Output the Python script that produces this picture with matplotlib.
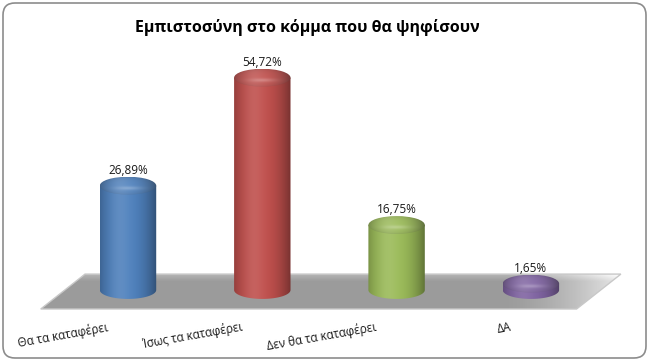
import numpy as np
import matplotlib
matplotlib.use("Agg")
import matplotlib.pyplot as plt
from matplotlib.path import Path
from matplotlib.patches import PathPatch, Ellipse, FancyBboxPatch, Polygon
from matplotlib.transforms import IdentityTransform
from matplotlib.colors import to_rgb

# Dados do gráfico
title = "Εμπιστοσύνη στο κόμμα που θα ψηφίσουν"
categories = ["Θα τα καταφέρει", "Ίσως τα καταφέρει", "Δεν θα τα καταφέρει", "ΔΑ"]
values = [26.89, 54.72, 16.75, 1.65]
labels = ["26,89%", "54,72%", "16,75%", "1,65%"]
colors = ["#4f81bd", "#c0504d", "#9bbb59", "#8064a2"]

FONT = ["Open Sans", "DejaVu Sans"]
HALF_W = 0.21    # meia largura do cilindro (unidades de x)
ELL_H = 4.6      # altura da elipse (unidades de y)
PX_X, PX_Y = 134.3, 3.88   # pixels por unidade
XLIM = (-0.7, 3.75)
YLIM = (-12, 60)

fig = plt.figure(figsize=(6.5, 3.61), dpi=100)
fig.patch.set_facecolor("white")

# moldura arredondada
frame = FancyBboxPatch((3, 3), 643, 355, boxstyle="round,pad=0,rounding_size=12",
                       transform=IdentityTransform(), facecolor="white",
                       edgecolor="#8c8c8c", lw=1.2, zorder=-10)
fig.patches.append(frame)

left = 128 + XLIM[0] * PX_X
bottom = 71 + YLIM[0] * PX_Y
ax = fig.add_axes([left / 650, bottom / 361,
                   (XLIM[1] - XLIM[0]) * PX_X / 650, (YLIM[1] - YLIM[0]) * PX_Y / 361])
ax.set_axis_off()


def shade_row(base, n=200):
    u = np.linspace(-1, 1, n)
    hl = np.exp(-((u + 0.3) / 0.35) ** 2)
    dk = np.where(u > 0, 0.38 * u ** 2, 0.22 * np.abs(u) ** 3)
    rgb = np.array(to_rgb(base))[None, :] * (1 - dk[:, None])
    rgb = rgb + (1 - rgb) * 0.10 * hl[:, None]
    return rgb


# chão
floor_pts = [(-0.65, -4.9), (3.34, -4.9), (3.67, 4.1), (-0.32, 4.1)]
floor = Polygon(floor_pts, closed=True, facecolor="none", edgecolor="#c8c8c8",
                lw=1, zorder=1)
ax.add_patch(floor)
gx = np.linspace(0, 1, 300)
gy = np.linspace(0, 1, 60)
GX, GY = np.meshgrid(gx, gy)
g = 0.61 + 0.10 * np.clip((GY - 0.8) / 0.2, 0, 1) \
    + 0.30 * np.clip((GX - 0.80) / 0.20, 0, 1) ** 1.5
floor_img = ax.imshow(np.dstack([g, g, g]), extent=(-0.65, 3.67, -4.9, 4.1),
                      origin="lower", aspect="auto", zorder=0.9)
floor_img.set_clip_path(floor)

# cilindros
for i, (v, c, lab) in enumerate(zip(values, colors, labels)):
    x0, x1 = i - HALF_W, i + HALF_W
    t = np.linspace(np.pi, 2 * np.pi, 60)
    arc = np.column_stack([i + HALF_W * np.cos(t), ELL_H / 2 * np.sin(t)])
    verts = np.vstack([[x0, v], arc, [x1, v], [x0, v]])
    codes = [Path.MOVETO] + [Path.LINETO] * (len(verts) - 2) + [Path.CLOSEPOLY]
    body = PathPatch(Path(verts, codes), facecolor="none", edgecolor="none",
                     transform=ax.transData)
    ax.add_patch(body)
    row = shade_row(c)
    im = ax.imshow(np.stack([row, row]), extent=(x0, x1, -ELL_H / 2, v),
                   aspect="auto", zorder=2, interpolation="bilinear")
    im.set_clip_path(body)

    # tampa
    top = Ellipse((i, v), 2 * HALF_W, ELL_H, facecolor="none", edgecolor="none")
    ax.add_patch(top)
    ty = np.linspace(0, 1, 60)[:, None]
    tx = np.linspace(-1, 1, 200)[None, :]
    lift = 0.06 + 0.22 * np.exp(-((ty - 0.62) / 0.10) ** 2) * np.exp(-(tx / 0.45) ** 2)
    edge = np.clip(1 - (tx ** 2 + ((ty - 0.5) / 0.5) ** 2), 0, 1)
    cap = row[None, :, :] * (0.86 + 0.14 * np.sqrt(edge))[:, :, None]
    cap = cap + (1 - cap) * lift[:, :, None]
    im2 = ax.imshow(cap, extent=(x0, x1, v - ELL_H / 2, v + ELL_H / 2),
                    origin="upper", aspect="auto", zorder=3, interpolation="bilinear")
    im2.set_clip_path(top)

    ax.text(i, v + 4.0, lab, ha="center", va="center", fontsize=8.5,
            family=FONT, color="#1a1a1a", zorder=5)
    ax.text(i - 0.15, -9.5, categories[i], ha="right", va="center", rotation=10,
            rotation_mode="anchor", fontsize=8.5, family=FONT, color="#1a1a1a")

ax.set_xlim(*XLIM)
ax.set_ylim(*YLIM)

fig.text(307 / 650, 1 - 28 / 361, title, ha="center", va="center",
         fontsize=11.5, fontweight="bold", family=FONT)

fig.savefig("out.png", dpi=100)
